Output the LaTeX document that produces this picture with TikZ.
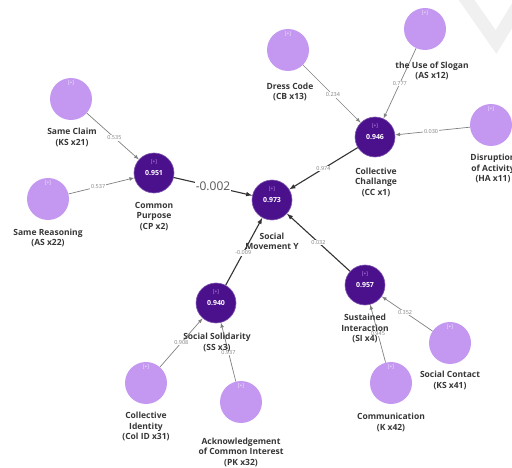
\documentclass[tikz,border=0pt]{standalone}
\usepackage{fontspec}
\setmainfont{Open Sans}
\usepackage{tikz}
\usetikzlibrary{arrows}
\definecolor{lvdark}{RGB}{75,16,140}
\definecolor{mvlight}{RGB}{196,152,240}
\definecolor{txtgray}{RGB}{55,55,55}
\NewDocumentCommand \fs{ m }{%
    \fontsize{#1}{#1}\selectfont%
}

\begin{document}
\begin{tikzpicture}[x=1pt, y=-1pt]
    \tikzstyle{lv}=[circle, fill=lvdark, draw=lvdark!70!white, line width=0.6pt, minimum size=40pt, inner sep=0pt, text=white, font=\fs{7}\bfseries, label={[label distance=-15pt, text=mvlight, font=\fs{5}]90:{[+]}}]
    \tikzstyle{mv}=[circle, fill=mvlight, minimum size=42pt, inner sep=0pt, label={[label distance=-11pt, text=white!85!mvlight, font=\fs{5}]90:{[+]}}]
    \tikzstyle{lbl}=[align=center, font=\fontsize{8.5}{10.5}\selectfont\bfseries, text=txtgray]
    \tikzstyle{w}=[midway, fill=white, inner sep=0.8pt, font=\fs{5.5}, text=gray]
    \tikzstyle{ind}=[-latex, draw=gray, line width=0.7pt]
    \tikzstyle{struct}=[-latex, draw=black!80, line width=1.1pt]
    \useasboundingbox (0,0) rectangle (512,468);
    % watermark
    \draw[gray!12, line width=13pt] (461,-8) -- (496,42) -- (518,6);
    % constructs
    \draw (272,200) node[lv] (SMY) {0.973} ;
    \draw (154,173) node[lv] (CP) {0.951} ;
    \draw (375,137) node[lv] (CC) {0.946} ;
    \draw (216,303) node[lv] (SS) {0.940} ;
    \draw (365,285) node[lv] (SI) {0.957} ;
    % indicators
    \draw (71,99) node[mv] (KS21) {} ;
    \draw (48,199) node[mv] (AS22) {} ;
    \draw (288,50) node[mv] (CB13) {} ;
    \draw (425,29) node[mv] (AS12) {} ;
    \draw (491,125) node[mv] (HA11) {} ;
    \draw (146,383) node[mv] (CI31) {} ;
    \draw (241,402) node[mv] (PK32) {} ;
    \draw (450,343) node[mv] (KS41) {} ;
    \draw (391,383) node[mv] (K42) {} ;
    % indicator links
    \draw[ind] (KS21) -- (CP) node[w, pos=0.53] {0.535} ;
    \draw[ind] (AS22) -- (CP) node[w, pos=0.45] {0.537} ;
    \draw[ind] (CB13) -- (CC) node[w, pos=0.52] {0.234} ;
    \draw[ind] (AS12) -- (CC) node[w] {0.777} ;
    \draw[ind] (HA11) -- (CC) node[w, pos=0.52] {0.030} ;
    \draw[ind] (CI31) -- (SS) node[w] {0.908} ;
    \draw[ind] (PK32) -- (SS) node[w] {0.937} ;
    \draw[ind] (KS41) -- (SI) node[w, pos=0.54] {0.352} ;
    \draw[ind] (K42) -- (SI) node[w] {0.945} ;
    % paths to Y
    \draw[struct] (CP) -- (SMY) node[midway, fill=white, inner sep=1pt, font=\fs{12}, text=black!65] {-0.002} ;
    \draw[struct] (CC) -- (SMY) node[w] {0.974} ;
    \draw[struct] (SS) -- (SMY) node[w, pos=0.48] {-0.009} ;
    \draw[struct] (SI) -- (SMY) node[w] {0.032} ;
    % names
    \draw (72,137.5) node[lbl] (KS21l) {Same Claim\\(KS x21)} ;
    \draw (48,238) node[lbl] (AS22l) {Same Reasoning\\(AS x22)} ;
    \draw (154,216.5) node[lbl] (CPl) {Common\\Purpose\\(CP x2)} ;
    \draw (290,92) node[lbl] (CB13l) {Dress Code\\(CB x13)} ;
    \draw (432,71) node[lbl] (AS12l) {the Use of Slogan\\(AS x12)} ;
    \draw (493,168.5) node[lbl] (HA11l) {Disruption\\of Activity\\(HA x11)} ;
    \draw (376,182) node[lbl] (CCl) {Collective\\Challange\\(CC x1)} ;
    \draw (272,241.5) node[lbl] (SMYl) {Social\\Movement Y} ;
    \draw (217,342.5) node[lbl] (SSl) {Social Solidarity\\(SS x3)} ;
    \draw (146,426.5) node[lbl] (CI31l) {Collective\\Identity\\(Col ID x31)} ;
    \draw (241,452) node[lbl] (PK32l) {Acknowledgement\\of Common Interest\\(PK x32)} ;
    \draw (365,328.5) node[lbl] (SIl) {Sustained\\Interaction\\(SI x4)} ;
    \draw (450,380.5) node[lbl] (KS41l) {Social Contact\\(KS x41)} ;
    \draw (391,422.5) node[lbl] (K42l) {Communication\\(K x42)} ;
\end{tikzpicture}
\end{document}
